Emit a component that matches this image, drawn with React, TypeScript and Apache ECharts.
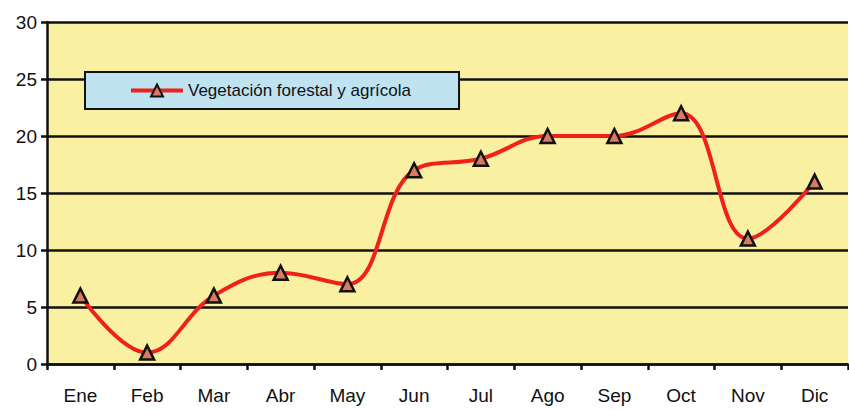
import React, { useEffect, useRef } from "react";
import * as echarts from "echarts";

const categories = ["Ene", "Feb", "Mar", "Abr", "May", "Jun", "Jul", "Ago", "Sep", "Oct", "Nov", "Dic"];
const seriesName = "Vegetación forestal y agrícola";
const values = [6, 1, 6, 8, 7, 17, 18, 20, 20, 22, 11, 16];
const yTicks = { min: 0, max: 30, interval: 5 };

export default function App() {
  const ref = useRef<HTMLDivElement>(null);
  useEffect(() => {
    if (!ref.current) return;
    const chart = echarts.init(ref.current, undefined, { renderer: "svg" });
    const font = "Liberation Sans, Arial, sans-serif";
    chart.setOption({
      animation: false,
      backgroundColor: "#ffffff",
      textStyle: { fontFamily: font },
      grid: {
        left: 47,
        right: 1,
        top: 22,
        bottom: 46,
        show: true,
        backgroundColor: "#FAF0A2",
        borderWidth: 0,
      },
      legend: {
        left: 85,
        top: 72,
        orient: "horizontal",
        backgroundColor: "#BFE3F0",
        borderColor: "#111",
        borderWidth: 2,
        borderRadius: 0,
        padding: [10, 48, 10, 44],
        itemWidth: 52,
        itemHeight: 15,
        itemGap: 4,
        lineStyle: { width: 4, color: "#F0201A" },
        textStyle: { fontSize: 17, color: "#111", fontFamily: font },
        data: [seriesName],
      },
      xAxis: {
        type: "category",
        data: categories,
        boundaryGap: true,
        axisLine: { lineStyle: { color: "#111", width: 2.5 } },
        axisTick: { show: true, length: 6, lineStyle: { color: "#111", width: 2.5 } },
        axisLabel: { color: "#111", fontSize: 19, margin: 22, fontFamily: font },
        splitLine: { show: false },
      },
      yAxis: {
        type: "value",
        min: yTicks.min,
        max: yTicks.max,
        interval: yTicks.interval,
        axisLine: { show: true, lineStyle: { color: "#111", width: 2.5 } },
        axisTick: { show: true, length: 6, lineStyle: { color: "#111", width: 2.5 } },
        axisLabel: { color: "#111", fontSize: 19, margin: 10, fontFamily: font },
        splitLine: { show: true, lineStyle: { color: "#111", width: 2.5 } },
      },
      series: [
        {
          name: seriesName,
          type: "line",
          data: values,
          smooth: 0.4,
          symbol: "triangle",
          symbolSize: 14,
          lineStyle: { color: "#F0201A", width: 4 },
          itemStyle: { color: "#D97A62", borderColor: "#111", borderWidth: 2.5 },
          z: 3,
        },
      ],
    });
    return () => chart.dispose();
  }, []);
  return (
    <div
      ref={ref}
      style={{ position: "fixed", left: 0, top: 0, width: 849, height: 410 }}
    />
  );
}
